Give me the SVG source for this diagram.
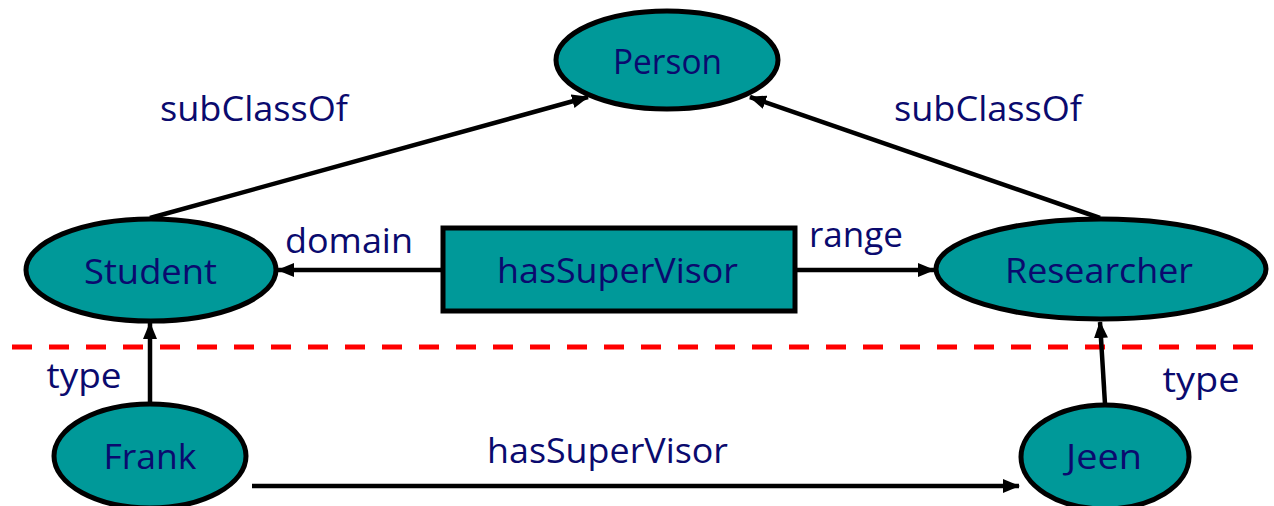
<svg xmlns="http://www.w3.org/2000/svg" width="1274" height="506" viewBox="0 0 1274 506">
<style>
.node{fill:#009999;stroke:#000;stroke-width:5}
.lbl{font-family:"Open Sans","Liberation Sans",sans-serif;font-size:35px;fill:#0a0a6e;text-anchor:middle}
.edge{stroke:#000;stroke-width:4.5;fill:none;marker-end:url(#ah)}
</style>
<defs>
<marker id="ah" markerUnits="userSpaceOnUse" markerWidth="18" markerHeight="16" refX="16" refY="8" orient="auto">
<path d="M0,1 L17,8 L0,15 Z" fill="#000"/>
</marker>
</defs>
<rect width="1274" height="506" fill="#fff"/>
<line x1="12" y1="347" x2="1268" y2="347" stroke="#ff0000" stroke-width="5" stroke-dasharray="20 17"/>
<g id="connectors">
<line class="edge" x1="150" y1="218" x2="588" y2="97"/>
<line class="edge" x1="1100" y1="218" x2="750" y2="97"/>
<line class="edge" x1="442" y1="270" x2="278" y2="270"/>
<line class="edge" x1="795" y1="270" x2="934" y2="270"/>
<line class="edge" x1="150" y1="403" x2="150" y2="323"/>
<line class="edge" x1="1105" y1="404" x2="1100" y2="322"/>
<line class="edge" x1="252" y1="486" x2="1019" y2="486"/>
<text class="lbl" x="254" y="121" textLength="188" lengthAdjust="spacingAndGlyphs">subClassOf</text>
<text class="lbl" x="988" y="121" textLength="188" lengthAdjust="spacingAndGlyphs">subClassOf</text>
<text class="lbl" x="349" y="253" textLength="128" lengthAdjust="spacingAndGlyphs">domain</text>
<text class="lbl" x="856" y="247" textLength="94" lengthAdjust="spacingAndGlyphs">range</text>
<text class="lbl" x="84" y="388" textLength="75" lengthAdjust="spacingAndGlyphs">type</text>
<text class="lbl" x="1201" y="392" textLength="77" lengthAdjust="spacingAndGlyphs">type</text>
<text class="lbl" x="607.5" y="463" textLength="241" lengthAdjust="spacingAndGlyphs">hasSuperVisor</text>
</g>
<g id="Person">
<ellipse class="node" cx="667" cy="60" rx="111" ry="49"/>
<text class="lbl" x="667.5" y="74" textLength="109" lengthAdjust="spacingAndGlyphs">Person</text>
</g>
<g id="Student">
<ellipse class="node" cx="151" cy="270" rx="125" ry="51"/>
<text class="lbl" x="150.5" y="284" textLength="133" lengthAdjust="spacingAndGlyphs">Student</text>
</g>
<g id="hasSuperVisor">
<rect class="node" x="443" y="228" width="352" height="83"/>
<text class="lbl" x="617.5" y="283" textLength="241" lengthAdjust="spacingAndGlyphs">hasSuperVisor</text>
</g>
<g id="Researcher">
<ellipse class="node" cx="1101" cy="269" rx="165" ry="50"/>
<text class="lbl" x="1099" y="283" textLength="188" lengthAdjust="spacingAndGlyphs">Researcher</text>
</g>
<g id="Frank">
<ellipse class="node" cx="150" cy="456" rx="96" ry="52"/>
<text class="lbl" x="150" y="469" textLength="93" lengthAdjust="spacingAndGlyphs">Frank</text>
</g>
<g id="Jeen">
<ellipse class="node" cx="1105" cy="457" rx="84" ry="52"/>
<text class="lbl" x="1104" y="469" textLength="76" lengthAdjust="spacingAndGlyphs">Jeen</text>
</g>
</svg>
